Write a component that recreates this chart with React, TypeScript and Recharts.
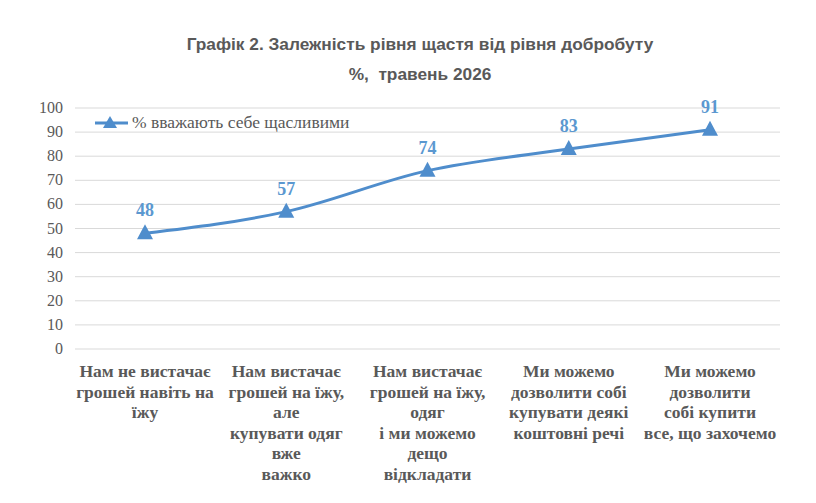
import { LineChart, Line, XAxis, YAxis, CartesianGrid, LabelList } from "recharts";

const categories = [
  ["Нам не вистачає", "грошей навіть на", "їжу"],
  ["Нам вистачає", "грошей на їжу,", "але", "купувати одяг", "вже", "важко"],
  ["Нам вистачає", "грошей на їжу,", "одяг", "і ми можемо", "дещо", "відкладати"],
  ["Ми можемо", "дозволити собі", "купувати деякі", "коштовні речі"],
  ["Ми можемо", "дозволити", "собі купити", "все, що захочемо"],
];
const happy = [48, 57, 74, 83, 91];
const yTicks = [0, 10, 20, 30, 40, 50, 60, 70, 80, 90, 100];
const seriesName = "% вважають себе щасливими";

const data = categories.map((lines, i) => ({ idx: i, value: happy[i] }));

const BLUE = "#4f8dcc";
const LABEL_BLUE = "#5b98d0";
const GRAY = "#595959";
const SERIF = "'Liberation Serif', 'Times New Roman', serif";

function Triangle(props: any) {
  const { cx, cy } = props;
  if (cx == null || cy == null) return null;
  return <path d={`M${cx},${cy - 9} L${cx + 8},${cy + 6} L${cx - 8},${cy + 6} Z`} fill={BLUE} />;
}

function CatTick(props: any) {
  const { x, y, payload } = props;
  const lines = categories[payload.value] || [];
  return (
    <text x={x} y={y} textAnchor="middle" fill={GRAY} style={{ fontFamily: SERIF, fontWeight: "bold", fontSize: 17.5 }}>
      {lines.map((l, i) => (
        <tspan key={i} x={x} dy={i === 0 ? 20 : 20.5}>{l}</tspan>
      ))}
    </text>
  );
}

function NumTick(props: any) {
  const { x, y, payload } = props;
  return (
    <text x={x} y={y} dy={5} textAnchor="end" fill={GRAY} style={{ fontFamily: SERIF, fontSize: 16 }}>
      {payload.value}
    </text>
  );
}

export default function App() {
  return (
    <div style={{ position: "relative", width: 800, height: 495, background: "#fff" }}>
      <div style={{ position: "absolute", left: 0, width: 824, top: 21, textAlign: "center", fontFamily: "'Liberation Sans', Arial, sans-serif", fontWeight: "bold", fontSize: 17.3, color: GRAY, lineHeight: "30px" }}>
        <div>Графік 2. Залежність рівня щастя від рівня добробуту</div>
        <div>%,&nbsp; травень 2026</div>
      </div>
      <div style={{ position: "absolute", left: 87, top: 104, display: "flex", alignItems: "center", fontFamily: SERIF, fontSize: 17.5, color: GRAY, zIndex: 2 }}>
        <svg width={34} height={16}>
          <line x1={0} y1={8} x2={33} y2={8} stroke={BLUE} strokeWidth={3} />
          <path d="M15,1 L22,13 L8,13 Z" fill={BLUE} />
        </svg>
        <span style={{ marginLeft: 3 }}>{seriesName}</span>
      </div>
      <LineChart width={800} height={495} data={data} margin={{ top: 100, right: 28, left: 7, bottom: 14 }}>
        <CartesianGrid vertical={false} stroke="#d9d9d9" />
        <XAxis dataKey="idx" type="category" axisLine={false} tickLine={false} height={140} tick={<CatTick />} interval={0} padding={{ left: 70, right: 70 }} />
        <YAxis domain={[0, 100]} ticks={yTicks} width={60} axisLine={false} tickLine={false} tickMargin={6} tick={<NumTick />} />
        <Line type="monotone" dataKey="value" name={seriesName} stroke={BLUE} strokeWidth={3} dot={<Triangle />} activeDot={false} isAnimationActive={false}>
          <LabelList dataKey="value" position="top" offset={17} fill={LABEL_BLUE} style={{ fontFamily: SERIF, fontWeight: "bold", fontSize: 18 }} />
        </Line>
      </LineChart>
    </div>
  );
}
